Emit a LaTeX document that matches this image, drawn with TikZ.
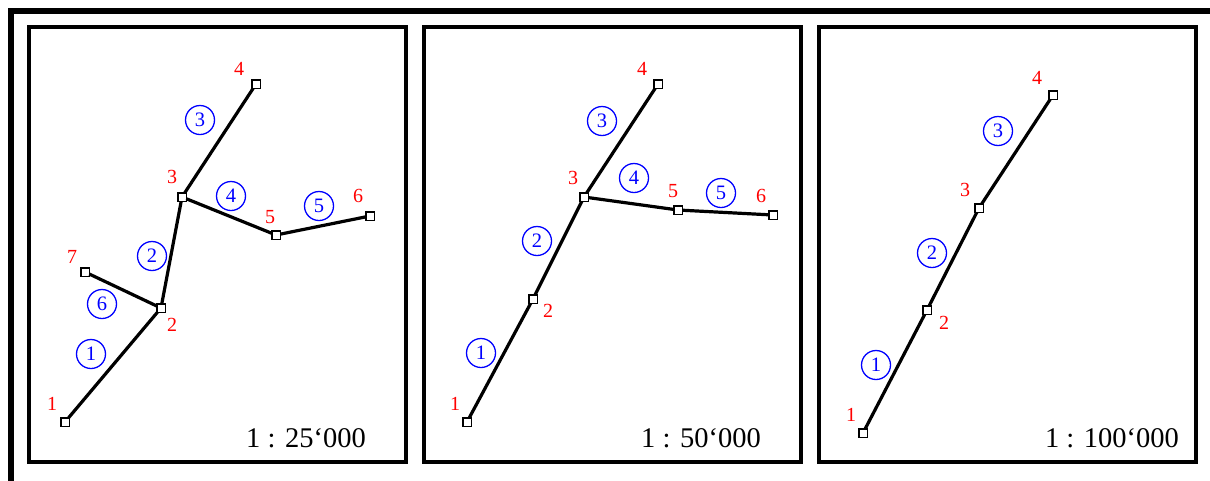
\documentclass[tikz,border=0pt]{standalone}
\usepackage{fontspec}
\setmainfont{Liberation Serif}
\begin{document}
\begin{tikzpicture}[x=1pt,y=-1pt,
  pt/.style={draw=black,fill=white,line width=1.5pt,minimum size=8.5pt,inner sep=0pt,outer sep=0pt,rectangle},
  seg/.style={line width=3.2pt,black},
  lab/.style={text=red,font=\fontsize{20}{20}\selectfont,inner sep=0pt},
  num/.style={circle,draw=blue,text=blue,line width=1.3pt,minimum size=29pt,inner sep=0pt,font=\fontsize{20.5}{20.5}\selectfont},
  panel/.style={draw=black,line width=4pt},
  scl/.style={font=\fontsize{28.5}{28.5}\selectfont,inner sep=0pt}]
\useasboundingbox (0,0) rectangle (1210,480);
\clip (0,0) rectangle (1210,480);
\draw[line width=6pt] (10.5,11) rectangle (1212.5,484);
\draw[panel] (28.5,27) rectangle (406,462);
\draw[panel] (423.5,27) rectangle (801,462);
\draw[panel] (818.5,27) rectangle (1196,462);
% panel 1
\node[pt] (a1) at (65,422) {};
\node[pt] (a2) at (161,308) {};
\node[pt] (a3) at (182,197) {};
\node[pt] (a4) at (256,84) {};
\node[pt] (a5) at (276,235) {};
\node[pt] (a6) at (370,216) {};
\node[pt] (a7) at (85,272) {};
\draw[seg] (a1) -- (a2);
\draw[seg] (a2) -- (a3);
\draw[seg] (a3) -- (a4);
\draw[seg] (a3) -- (a5);
\draw[seg] (a5) -- (a6);
\draw[seg] (a2) -- (a7);
\node[lab] (la1) at (52,404) {1};
\node[lab] (la2) at (172,325) {2};
\node[lab] (la3) at (172,177) {3};
\node[lab] (la4) at (239,69) {4};
\node[lab] (la5) at (270,217) {5};
\node[lab] (la6) at (358,196) {6};
\node[lab] (la7) at (72,257) {7};
\node[num] (na1) at (91,354) {1};
\node[num] (na2) at (152,256) {2};
\node[num] (na3) at (200,120) {3};
\node[num] (na4) at (231,196) {4};
\node[num] (na5) at (319,206) {5};
\node[num] (na6) at (102,304) {6};
\node[scl] (sa) at (306,438) {1 : 25‘000};
% panel 2
\node[pt] (b1) at (467,422) {};
\node[pt] (b2) at (533,299) {};
\node[pt] (b3) at (584,197) {};
\node[pt] (b4) at (658,84) {};
\node[pt] (b5) at (678,210) {};
\node[pt] (b6) at (773,215) {};
\draw[seg] (b1) -- (b2);
\draw[seg] (b2) -- (b3);
\draw[seg] (b3) -- (b4);
\draw[seg] (b3) -- (b5);
\draw[seg] (b5) -- (b6);
\node[lab] (lb1) at (455,404) {1};
\node[lab] (lb2) at (548,311) {2};
\node[lab] (lb3) at (573,178) {3};
\node[lab] (lb4) at (642,69) {4};
\node[lab] (lb5) at (673,191) {5};
\node[lab] (lb6) at (761,196) {6};
\node[num] (nb1) at (481,353) {1};
\node[num] (nb2) at (537,241) {2};
\node[num] (nb3) at (602,121) {3};
\node[num] (nb4) at (634,178) {4};
\node[num] (nb5) at (721,193) {5};
\node[scl] (sb) at (701,438) {1 : 50‘000};
% panel 3
\node[pt] (c1) at (863,433) {};
\node[pt] (c2) at (927,310) {};
\node[pt] (c3) at (979,208) {};
\node[pt] (c4) at (1053,95) {};
\draw[seg] (c1) -- (c2);
\draw[seg] (c2) -- (c3);
\draw[seg] (c3) -- (c4);
\node[lab] (lc1) at (851,415) {1};
\node[lab] (lc2) at (944,323) {2};
\node[lab] (lc3) at (965,190) {3};
\node[lab] (lc4) at (1037,78) {4};
\node[num] (nc1) at (876,365) {1};
\node[num] (nc2) at (932,253) {2};
\node[num] (nc3) at (998,131) {3};
\node[scl] (sc) at (1112,438) {1 : 100‘000};
\end{tikzpicture}
\end{document}
